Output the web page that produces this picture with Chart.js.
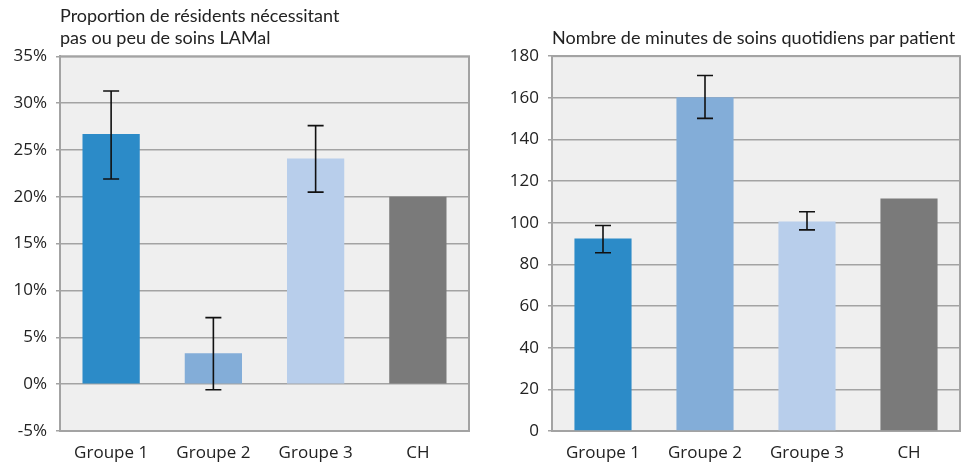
<!DOCTYPE html>
<html>
<head>
<meta charset="utf-8">
<script src="https://cdn.jsdelivr.net/npm/chart.js@4.4.1/dist/chart.umd.min.js"></script>
<style>
    html, body { margin: 0; padding: 0; background: #ffffff; }
    #left { position: absolute; left: 0; top: 0; width: 480px; height: 466px; }
    #right { position: absolute; left: 480px; top: 0; width: 482px; height: 466px; }
</style>
</head>
<body>
<div id="left"><canvas id="share-chart"></canvas></div>
<div id="right"><canvas id="minutes-chart"></canvas></div>
<script>
const categories = ["Groupe 1", "Groupe 2", "Groupe 3", "CH"];
const barColors = ["#2c8bc8", "#83add8", "#b8ceeb", "#7a7a7a"];

// Proportion de résidents (%)
const shareValues = [26.7, 3.3, 24.1, 20.0];
const shareErrLow = [21.9, -0.6, 20.5, null];
const shareErrHigh = [31.3, 7.1, 27.6, null];
const shareTicks = { min: -5, max: 35, step: 5 };

// Minutes de soins par patient
const minuteValues = [92.4, 160.2, 100.6, 111.7];
const minuteErrLow = [85.6, 150.1, 96.6, null];
const minuteErrHigh = [98.7, 170.7, 105.3, null];
const minuteTicks = { min: 0, max: 180, step: 20 };

const textColor = "#222222";
const gridColor = "#a3a3a3";

const plotFrame = {
    id: "plotFrame",
    beforeDraw: (chart) => {
        const a = chart.chartArea;
        const ctx = chart.ctx;
        ctx.save();
        ctx.fillStyle = "#efefef";
        ctx.fillRect(a.left, a.top, a.right - a.left, a.bottom - a.top);
        ctx.restore();
    },
    beforeDatasetsDraw: (chart) => {
        const a = chart.chartArea;
        const ctx = chart.ctx;
        ctx.save();
        ctx.strokeStyle = gridColor;
        ctx.lineWidth = 2;
        ctx.strokeRect(a.left, a.top, a.right - a.left, a.bottom - a.top);
        ctx.restore();
    },
};

const errorBars = {
    id: "errorBars",
    afterDatasetsDraw: (chart, args, opts) => {
        const ctx = chart.ctx;
        const y = chart.scales.y;
        const meta = chart.getDatasetMeta(0);
        ctx.save();
        ctx.strokeStyle = "#111111";
        ctx.lineWidth = 1.6;
        meta.data.forEach((bar, i) => {
            if (opts.low[i] === null) return;
            const top = y.getPixelForValue(opts.high[i]);
            const bottom = y.getPixelForValue(opts.low[i]);
            const half = 8;
            ctx.beginPath();
            ctx.moveTo(bar.x, top);
            ctx.lineTo(bar.x, bottom);
            ctx.moveTo(bar.x - half, top);
            ctx.lineTo(bar.x + half, top);
            ctx.moveTo(bar.x - half, bottom);
            ctx.lineTo(bar.x + half, bottom);
            ctx.stroke();
        });
        ctx.restore();
    },
};

function makeChart(canvasId, values, low, high, ticks, titleText, titlePad, axisWidth, padRight, suffix) {
    return new Chart(document.getElementById(canvasId), {
        type: "bar",
        data: {
            labels: categories,
            datasets: [
                {
                    data: values,
                    backgroundColor: barColors,
                    borderWidth: 0,
                    barPercentage: 0.56,
                    categoryPercentage: 1,
                },
            ],
        },
        options: {
            responsive: true,
            maintainAspectRatio: false,
            animation: false,
            layout: {
                padding: { left: 0, right: padRight, top: 0, bottom: 0 },
            },
            plugins: {
                legend: { display: false },
                tooltip: { enabled: false },
                title: {
                    display: true,
                    text: titleText,
                    align: "start",
                    fullSize: false,
                    color: textColor,
                    font: { family: "Lato", size: 18, weight: "normal", lineHeight: 1.23 },
                    padding: titlePad,
                },
                errorBars: { low: low, high: high },
            },
            scales: {
                x: {
                    grid: { display: false, drawTicks: false },
                    border: { display: false },
                    ticks: {
                        color: textColor,
                        padding: 12,
                        font: { family: "Open Sans", size: 17 },
                    },
                    afterFit: (scale) => {
                        scale.height = 35;
                    },
                },
                y: {
                    min: ticks.min,
                    max: ticks.max,
                    grid: {
                        color: gridColor,
                        lineWidth: 1.5,
                        drawTicks: true,
                        tickLength: 4,
                    },
                    border: { display: true, color: gridColor, width: 2 },
                    ticks: {
                        stepSize: ticks.step,
                        color: textColor,
                        padding: 9,
                        font: { family: "Open Sans", size: 17 },
                        callback: (value) => value + suffix,
                    },
                    afterFit: (scale) => {
                        scale.width = axisWidth;
                    },
                },
            },
        },
        plugins: [plotFrame, errorBars],
    });
}

makeChart(
    "share-chart",
    shareValues,
    shareErrLow,
    shareErrHigh,
    shareTicks,
    ["Proportion de résidents nécessitant", "pas ou peu de soins LAMal"],
    { top: 5, bottom: 7 },
    60,
    11,
    "%"
);

makeChart(
    "minutes-chart",
    minuteValues,
    minuteErrLow,
    minuteErrHigh,
    minuteTicks,
    "Nombre de minutes de soins quotidiens par patient",
    { top: 27, bottom: 7 },
    72,
    2,
    ""
);
</script>
</body>
</html>
